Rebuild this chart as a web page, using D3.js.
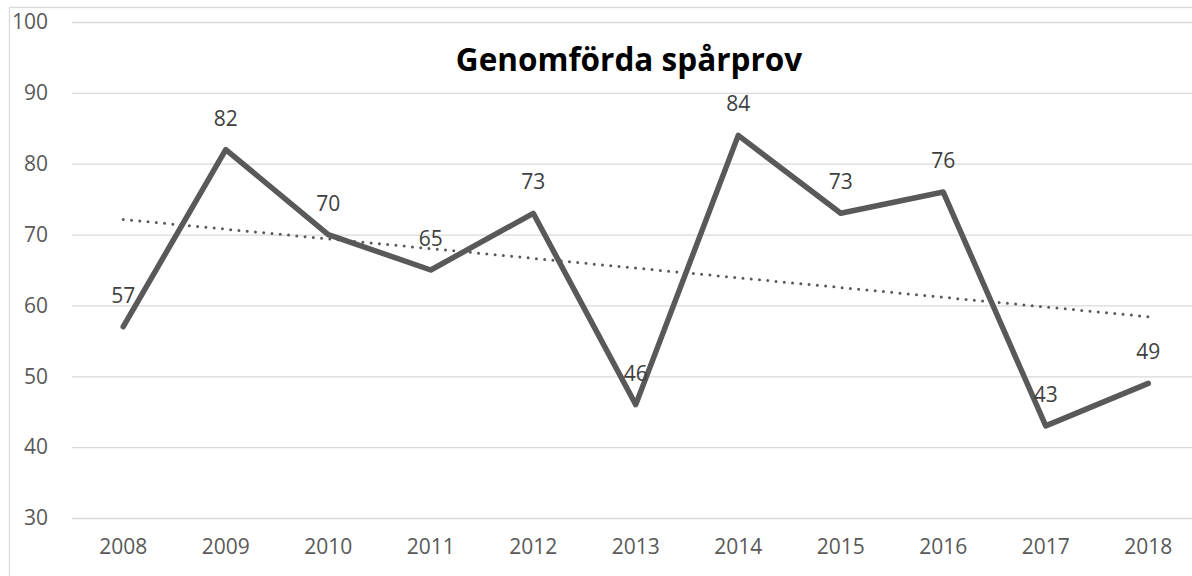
<!DOCTYPE html>
<html>
<head>
<meta charset="utf-8">
<script src="https://cdn.jsdelivr.net/npm/d3@7"></script>
<style>
    body { margin: 0; background: #ffffff; }
    text { font-family: "Open Sans", "Noto Sans", sans-serif; }
</style>
</head>
<body>
<div id="chart"></div>
<script>
// data
let years = ["2008", "2009", "2010", "2011", "2012", "2013", "2014", "2015", "2016", "2017", "2018"]
let spar = [57, 82, 70, 65, 73, 46, 84, 73, 76, 43, 49]
let yTicks = [30, 40, 50, 60, 70, 80, 90, 100]
let title = "Genomförda spårprov"

let width = 1192
let height = 576

let svg = d3.select("#chart")
    .append("svg")
    .attr("width", width)
    .attr("height", height)

// chart border (runs off the right/bottom edge)
svg.append("rect")
    .attr("x", 9.5)
    .attr("y", 7.5)
    .attr("width", 1240)
    .attr("height", 600)
    .style("fill", "none")
    .style("stroke", "#d9d9d9")
    .style("stroke-width", 1.3)

let xScale = d3.scaleBand()
    .domain(years)
    .range([72, 72 + 11 * 102.5])

let yScale = d3.scaleLinear()
    .domain([30, 100])
    .range([518, 22])

let xMid = d => xScale(d) + xScale.bandwidth() / 2

// gridlines
let yAxis = d3.axisLeft(yScale)
    .tickValues(yTicks)
    .tickSize(-(width - 72))
    .tickPadding(24)
svg.append("g")
    .attr("transform", "translate(72,0)")
    .call(yAxis)
    .call(g => g.select(".domain").remove())
    .call(g => g.selectAll("line").style("stroke", "#d9d9d9").style("stroke-width", 1.3))
    .call(g => g.selectAll("text")
        .style("font-size", "21px")
        .style("fill", "#595959"))

let xAxis = d3.axisBottom(xScale).tickSize(0).tickPadding(21)
svg.append("g")
    .attr("transform", "translate(0,518)")
    .call(xAxis)
    .call(g => g.select(".domain").remove())
    .call(g => g.selectAll("text")
        .style("font-size", "21px")
        .style("fill", "#595959"))

// linear trend line from least squares
let n = spar.length
let meanX = (n - 1) / 2
let meanY = d3.mean(spar)
let sxy = d3.sum(spar, (v, i) => (i - meanX) * (v - meanY))
let sxx = d3.sum(spar, (v, i) => (i - meanX) * (i - meanX))
let slope = sxy / sxx
let icpt = meanY - slope * meanX

svg.append("line")
    .attr("x1", xMid(years[0]))
    .attr("y1", yScale(icpt))
    .attr("x2", xMid(years[n - 1]))
    .attr("y2", yScale(icpt + slope * (n - 1)))
    .style("stroke", "#595959")
    .style("stroke-width", 3)
    .style("stroke-linecap", "round")
    .style("stroke-dasharray", "0,8.3")

// main series
let line = d3.line()
    .x((d, i) => xMid(years[i]))
    .y(d => yScale(d))

svg.append("path")
    .datum(spar)
    .attr("d", line)
    .style("fill", "none")
    .style("stroke", "#595959")
    .style("stroke-width", 5.5)
    .style("stroke-linejoin", "round")
    .style("stroke-linecap", "round")

// value labels
svg.append("g")
    .selectAll("text")
    .data(spar)
    .join("text")
    .attr("x", (d, i) => xMid(years[i]))
    .attr("y", d => yScale(d) - 24)
    .attr("text-anchor", "middle")
    .style("font-size", "21px")
    .style("fill", "#404040")
    .text(d => d)

svg.append("text")
    .attr("x", 629)
    .attr("y", 71)
    .attr("text-anchor", "middle")
    .style("font-size", "31.5px")
    .style("font-weight", "bold")
    .style("fill", "#000000")
    .text(title)
</script>
</body>
</html>
